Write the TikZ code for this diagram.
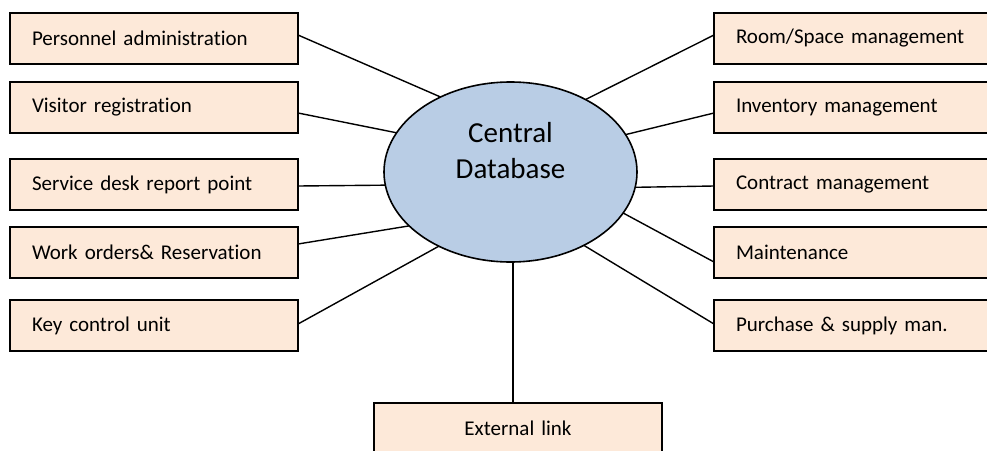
\documentclass[tikz,border=0pt]{standalone}
\usepackage{fontspec}
\setmainfont{Carlito}[Ligatures={NoCommon,NoRequired,NoContextual}]
\usetikzlibrary{shapes.geometric}

\definecolor{boxfill}{HTML}{FDE9D9}
\definecolor{dbfill}{HTML}{B9CDE5}

\tikzset{
  modbox/.style={draw=black, fill=boxfill, line width=1.6pt,
    minimum width=288pt, minimum height=51pt, inner xsep=22pt, inner ysep=0pt,
    text width=244pt, align=left, outer sep=0pt,
    font=\fontsize{21}{25}\selectfont},
  linkbox/.style={modbox, align=center},
  dbnode/.style={ellipse, draw=black, fill=dbfill, line width=1.6pt,
    minimum width=253pt, minimum height=180pt, inner sep=0pt, outer sep=0pt},
  dblabel/.style={align=center, inner sep=0pt,
    font=\fontsize{29}{36}\selectfont},
  link/.style={draw=black, line width=1.4pt}
}

\begin{document}
\begin{tikzpicture}[x=1pt, y=-1pt]
  \fill[white] (0,0) rectangle (987,450);
  \useasboundingbox (0,0) rectangle (987,450);

  % central database
  \node[dbnode] (db) at (510.5,172) {};
  \node[dblabel] (dbtext) at (510.5,151) {Central\\Database};

  % modules on the left
  \node[modbox] (pers) at (154,38.5)  {Personnel administration};
  \node[modbox] (visit) at (154,107.5) {Visitor registration};
  \node[modbox] (desk) at (154,184.5) {Service desk report point};
  \node[modbox] (work) at (154,252.5) {Work orders\& Reservation};
  \node[modbox] (key) at (154,325.5) {Key control unit};

  % modules on the right
  \node[modbox] (room) at (858,38.5)  {Room/Space management};
  \node[modbox] (inv) at (858,107.5) {Inventory management};
  \node[modbox] (contr) at (858,184.5) {Contract management};
  \node[modbox] (maint) at (858,252.5) {Maintenance};
  \node[modbox] (purch) at (858,325.5) {Purchase \& supply man.};

  % external link below
  \node[linkbox] (ext) at (518,428.5) {External link};

  % connectors to the database
  \draw[link] ([yshift=3.5pt]pers.east)  -- (db.133.6);
  \draw[link] ([yshift=-5.5pt]visit.east) -- (db.161.3);
  \draw[link] ([yshift=-1.5pt]desk.east) -- (db.186.4);
  \draw[link] ([yshift=8.5pt]work.east)  -- (db.208.7);
  \draw[link] ([yshift=1.5pt]key.east)   -- (db.226);

  \draw[link] ([yshift=3.5pt]room.west)  -- (db.44.8);
  \draw[link] ([yshift=-5.5pt]inv.west)  -- (db.18.8);
  \draw[link] ([yshift=-1.5pt]contr.west) -- (db.353.7);
  \draw[link] ([yshift=-9.5pt]maint.west) -- (db.340.3);
  \draw[link] ([yshift=1.5pt]purch.west) -- (db.315.2);

  \draw[link] ([xshift=2.5pt]db.south) -- ([xshift=-5pt]ext.north);
\end{tikzpicture}
\end{document}
